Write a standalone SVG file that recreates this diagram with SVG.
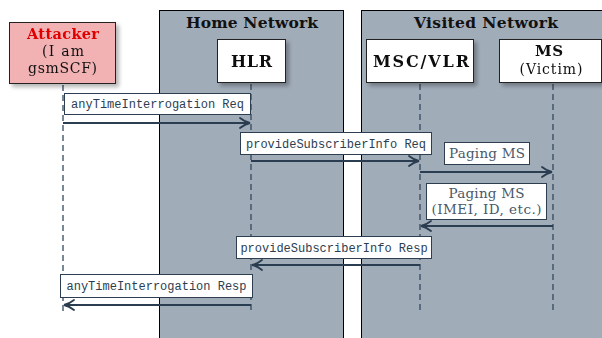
<svg xmlns="http://www.w3.org/2000/svg" width="602" height="338" viewBox="0 0 602 338">
  <defs>
    <filter id="shadow" x="-20%" y="-20%" width="150%" height="150%">
      <feGaussianBlur in="SourceAlpha" stdDeviation="2"/>
      <feOffset dx="3" dy="3" result="b"/>
      <feComponentTransfer><feFuncA type="linear" slope="0.3"/></feComponentTransfer>
      <feMerge><feMergeNode/><feMergeNode in="SourceGraphic"/></feMerge>
    </filter>
    <marker id="head" viewBox="0 0 12 12" refX="11" refY="6" markerWidth="12" markerHeight="12" markerUnits="userSpaceOnUse" orient="auto">
      <path d="M1,1 Q6,5 11,6 Q6,7 1,11" fill="none" stroke="#2b3d50" stroke-width="1.8" stroke-linecap="round"/>
    </marker>
  </defs>
  <style>
    .net { fill: #a1acb9; stroke: #000; stroke-width: 1; }
    .nettitle { font-family: "DejaVu Serif", "Liberation Serif", serif; font-weight: bold; font-size: 15.5px; fill: #111; text-anchor: middle; }
    .node { fill: #fff; stroke: #222; stroke-width: 1; }
    .nodetxt { font-family: "DejaVu Serif", "Liberation Serif", serif; font-size: 14px; fill: #111; text-anchor: middle; }
    .b { font-weight: bold; font-size: 16px; }
    .life { stroke: #34495e; stroke-width: 1.3; stroke-dasharray: 6 4; fill: none; }
    .msg { stroke: #2b3d50; stroke-width: 2; fill: none; marker-end: url(#head); }
    .lbl { fill: #fff; stroke: #2c3e50; stroke-width: 1; }
    .mono { font-family: "Liberation Mono", "DejaVu Sans Mono", monospace; font-size: 12px; fill: #2c3e50; text-anchor: middle; }
    .serif { font-family: "DejaVu Serif", "Liberation Serif", serif; font-size: 13.5px; fill: #4a5868; text-anchor: middle; }
  </style>

  <rect width="602" height="338" fill="#fff"/>

  <!-- network areas -->
  <g id="home-network">
    <rect class="net" x="159.5" y="10.5" width="184" height="340"/>
    <text class="nettitle" x="252" y="28" textLength="132">Home Network</text>
  </g>
  <g id="visited-network">
    <rect class="net" x="361.5" y="10.5" width="250" height="340"/>
    <text class="nettitle" x="486" y="28" textLength="144">Visited Network</text>
  </g>

  <!-- lifelines -->
  <g id="lifelines">
    <line class="life" x1="63" y1="85" x2="63" y2="311"/>
    <line class="life" x1="251" y1="84" x2="251" y2="311"/>
    <line class="life" x1="420" y1="84" x2="420" y2="311"/>
    <line class="life" x1="553" y1="84" x2="553" y2="311"/>
  </g>

  <!-- participants -->
  <g id="attacker" filter="url(#shadow)">
    <rect x="9.5" y="22.5" width="106" height="61" fill="#f2b2b4" stroke="#222" stroke-width="1"/>
    <text class="nodetxt" x="63" y="39" style="fill:#e00000;font-weight:bold;font-size:14.5px" textLength="72">Attacker</text>
    <text class="nodetxt" x="63" y="56" textLength="42">(I am</text>
    <text class="nodetxt" x="62.5" y="73" textLength="69">gsmSCF)</text>
  </g>
  <g id="hlr" filter="url(#shadow)">
    <rect class="node" x="217.5" y="39.5" width="68" height="43"/>
    <text class="nodetxt b" x="251.5" y="67" textLength="41">HLR</text>
  </g>
  <g id="msc-vlr" filter="url(#shadow)">
    <rect class="node" x="366.5" y="39.5" width="107" height="43"/>
    <text class="nodetxt b" x="421" y="67" textLength="96">MSC/VLR</text>
  </g>
  <g id="ms" filter="url(#shadow)">
    <rect class="node" x="499.5" y="39.5" width="102" height="43"/>
    <text class="nodetxt b" x="549" y="56" style="font-size:15px" textLength="28">MS</text>
    <text class="nodetxt" x="551" y="74" textLength="63">(Victim)</text>
  </g>

  <!-- messages -->
  <g id="connectors">
    <line class="msg" x1="63" y1="123" x2="250" y2="123"/>
    <line class="msg" x1="251" y1="161" x2="419" y2="161"/>
    <line class="msg" x1="420" y1="172" x2="552" y2="172"/>
    <line class="msg" x1="553" y1="226" x2="421" y2="226"/>
    <line class="msg" x1="420" y1="265" x2="252" y2="265"/>
    <line class="msg" x1="251" y1="305" x2="64" y2="305"/>
  </g>

  <g id="labels">
    <g id="lbl-ati-req">
      <rect class="lbl" x="64.5" y="93.5" width="186" height="21"/>
      <text class="mono" x="157.5" y="108">anyTimeInterrogation Req</text>
    </g>
    <g id="lbl-psi-req">
      <rect class="lbl" x="240.5" y="132.5" width="191" height="22"/>
      <text class="mono" x="336" y="147.5">provideSubscriberInfo Req</text>
    </g>
    <g id="lbl-paging">
      <rect class="lbl" x="444.5" y="142.5" width="85" height="22"/>
      <text class="serif" x="487" y="158" textLength="76">Paging MS</text>
    </g>
    <g id="lbl-paging-resp">
      <rect class="lbl" x="426.5" y="183.5" width="120" height="36"/>
      <text class="serif" x="486.5" y="198" textLength="76">Paging MS</text>
      <text class="serif" x="486.5" y="214" textLength="110">(IMEI, ID, etc.)</text>
    </g>
    <g id="lbl-psi-resp">
      <rect class="lbl" x="236.5" y="236.5" width="195" height="22"/>
      <text class="mono" x="334" y="251.5">provideSubscriberInfo Resp</text>
    </g>
    <g id="lbl-ati-resp">
      <rect class="lbl" x="60.5" y="274.5" width="192" height="23"/>
      <text class="mono" x="156.5" y="290">anyTimeInterrogation Resp</text>
    </g>
  </g>
</svg>
